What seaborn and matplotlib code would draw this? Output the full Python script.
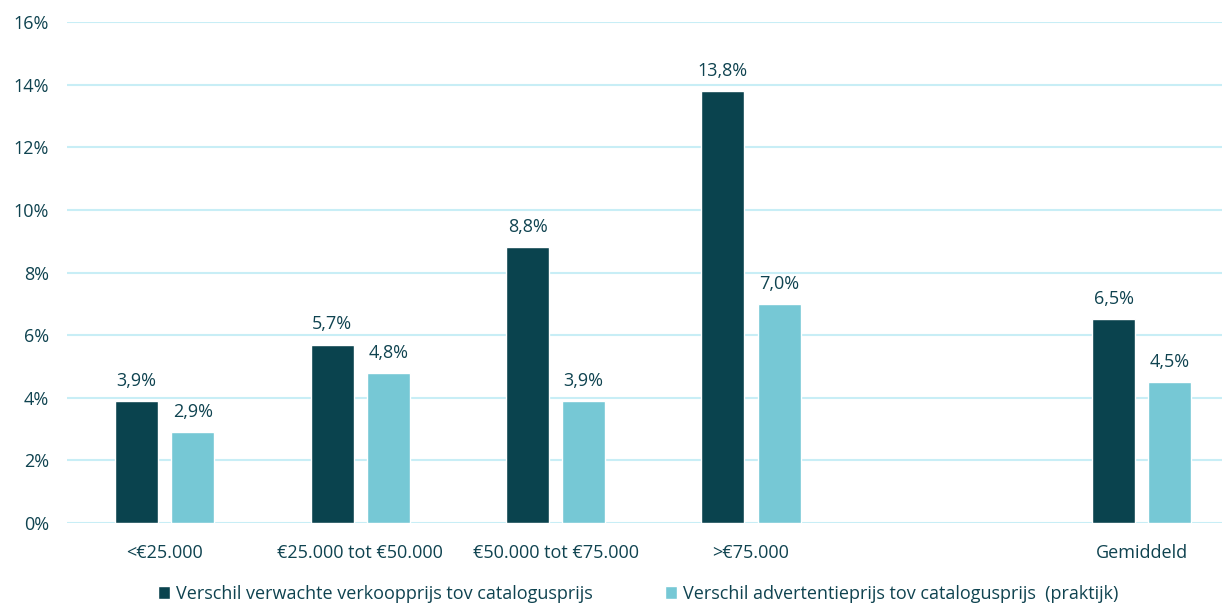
import matplotlib
matplotlib.use("Agg")
import matplotlib.pyplot as plt
import seaborn as sns
import pandas as pd
from matplotlib.patches import Patch
from matplotlib.ticker import FuncFormatter

categories = ["<€25.000", "€25.000 tot €50.000", "€50.000 tot €75.000", ">€75.000", "Gemiddeld"]
slot_order = ["<€25.000", "€25.000 tot €50.000", "€50.000 tot €75.000", ">€75.000", " ", "Gemiddeld"]
verwacht = [3.9, 5.7, 8.8, 13.8, 6.5]
advertentie = [2.9, 4.8, 3.9, 7.0, 4.5]
series_names = ["Verschil verwachte verkoopprijs tov catalogusprijs",
                "Verschil advertentieprijs tov catalogusprijs  (praktijk)"]
y_ticks = [0, 2, 4, 6, 8, 10, 12, 14, 16]

dark = "#0A434E"
light = "#76C8D5"
grid_c = "#C8EEF6"
text_c = "#0F4350"

df = pd.DataFrame({
    "categorie": categories * 2,
    "waarde": verwacht + advertentie,
    "reeks": [series_names[0]] * len(categories) + [series_names[1]] * len(categories),
})

sns.set_theme(style="white")
plt.rcParams["font.family"] = ["Open Sans", "DejaVu Sans"]

fig = plt.figure(figsize=(12.22, 6.06), dpi=100)
ax = fig.add_axes([67 / 1222, 83 / 606, 1 - 67 / 1222, (584 - 83) / 606])

sns.barplot(data=df, x="categorie", y="waarde", hue="reeks", order=slot_order,
            hue_order=series_names, palette=[dark, light], width=0.574, gap=0.233,
            saturation=1, errorbar=None, legend=False, ax=ax, zorder=3)

for container in ax.containers:
    ax.bar_label(container, labels=[f"{b.get_height():.1f}%".replace(".", ",") for b in container],
                 padding=8, fontsize=13, color=text_c)

ax.set_ylim(0, 16)
ax.set_xlim(-0.5, 5.41)
ax.set_yticks(y_ticks)
ax.yaxis.set_major_formatter(FuncFormatter(lambda v, p: f"{v:.0f}%"))
ax.grid(axis="y", color=grid_c, linewidth=1.5, zorder=0)
ax.set_axisbelow(True)
for s in ax.spines.values():
    s.set_visible(False)
ax.set_xlabel("")
ax.set_ylabel("")
ax.tick_params(axis="x", length=0, pad=15, labelsize=13, labelcolor=text_c)
ax.tick_params(axis="y", length=0, pad=13, labelsize=13, labelcolor=text_c)
for lab in ax.get_yticklabels():
    lab.set_horizontalalignment("right")

handles = [Patch(facecolor=dark), Patch(facecolor=light)]
fig.legend(handles, series_names, loc="center", bbox_to_anchor=(0.522, 12 / 606), ncol=2,
           frameon=False, fontsize=13, labelcolor=text_c, handlelength=0.7, handleheight=0.7,
           handletextpad=0.3, columnspacing=4.0)

fig.savefig("out.png", dpi=100)
